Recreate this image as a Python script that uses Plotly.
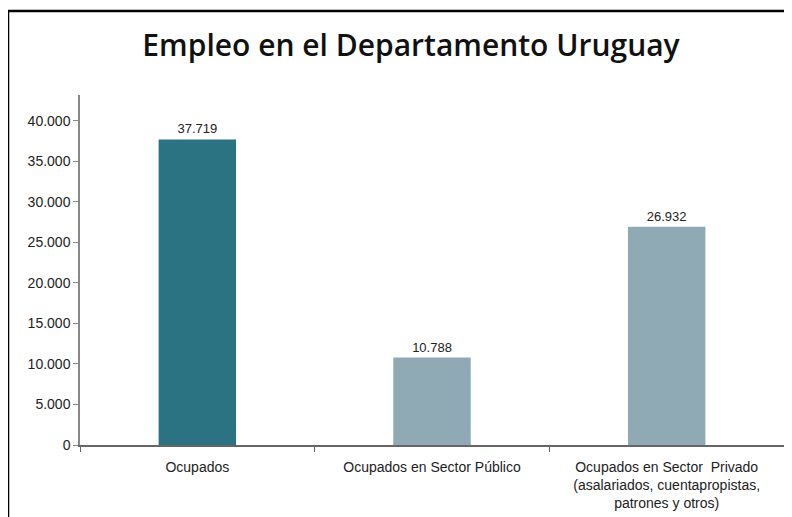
import plotly.graph_objects as go

categories = [
    "Ocupados",
    "Ocupados en Sector Público",
    "Ocupados en Sector  Privado<br>(asalariados, cuentapropistas,<br>patrones y otros)",
]
values = [37719, 10788, 26932]
bar_colors = ["#2b7383", "#8faab5", "#8faab5"]
tick_vals = [0, 5000, 10000, 15000, 20000, 25000, 30000, 35000, 40000]

# the page shows the figure offset by 8 px (body margin)
L, T, R, B = 72, 87, 776, 437
W, H = 792, 517
pw, ph = R - L, B - T

fig = go.Figure(
    go.Bar(
        x=categories,
        y=values,
        marker=dict(color=bar_colors, line=dict(width=0)),
        width=0.33,
        text=[f"{v:,}".replace(",", ".") for v in values],
        textposition="outside",
        textfont=dict(family="Liberation Sans, sans-serif", size=13, color="#222"),
        cliponaxis=False,
    )
)

fig.update_layout(
    width=W,
    height=H,
    margin=dict(l=L, r=W - R, t=T, b=H - B),
    paper_bgcolor="white",
    plot_bgcolor="white",
    separators=",.",
    showlegend=False,
    title=dict(
        text="Empleo en el Departamento Uruguay",
        x=403 / W,
        xanchor="center",
        y=1 - 37 / H,
        yanchor="middle",
        font=dict(family="Open Sans, Liberation Sans, sans-serif", size=30, color="#111", weight=600),
    ),
    font=dict(family="Liberation Sans, sans-serif", size=13, color="#222"),
)

fig.update_yaxes(
    range=[0, 43200],
    tickvals=tick_vals,
    tickformat=",d",
    showgrid=False,
    showline=True,
    linecolor="#888",
    linewidth=1.5,
    ticks="outside",
    ticklen=5,
    tickcolor="#888",
    zeroline=False,
    tickfont=dict(size=14, color="#222"),
)
fig.update_xaxes(
    showline=True,
    linecolor="#666",
    linewidth=1.5,
    ticks="outside",
    tickson="boundaries",
    ticklen=5,
    tickcolor="#666",
    showgrid=False,
    ticklabelstandoff=8,
    tickfont=dict(size=14, color="#222"),
)

# outer frame
fig.add_shape(
    type="rect",
    xref="paper",
    yref="paper",
    x0=(0 - L) / pw,
    x1=(W + 10 - L) / pw,
    y0=(B - (H + 20)) / ph,
    y1=(B - 3) / ph,
    line=dict(color="black", width=2.5),
    fillcolor="rgba(0,0,0,0)",
    layer="above",
)

fig.write_html("out.html")
